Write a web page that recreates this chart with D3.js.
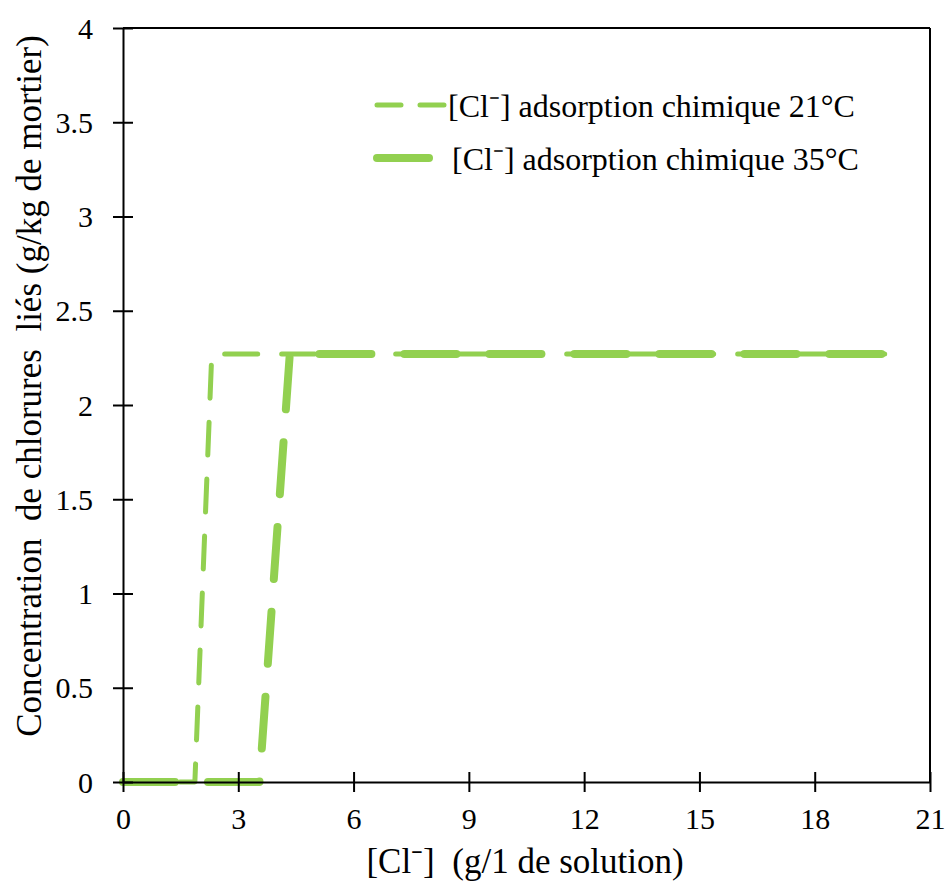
<!DOCTYPE html>
<html>
<head>
<meta charset="utf-8">
<script src="https://cdn.jsdelivr.net/npm/d3@7"></script>
<style>
  html, body { margin: 0; padding: 0; background: #fff; }
  svg { display: block; }
  text { font-family: "Liberation Serif", "Times New Roman", serif; fill: #000; }
</style>
</head>
<body>
<svg id="chart" width="946" height="886"></svg>
<script>
// ---- data ----
const seriesNames = ["[Cl⁻] adsorption chimique 21°C", "[Cl⁻] adsorption chimique 35°C"];
const cl21x = [0, 1.87, 2.31, 20.05];
const cl21y = [0, 0, 2.27, 2.27];
const cl35x = [0, 3.55, 4.34, 20.05];
const cl35y = [0, 0, 2.27, 2.27];
const xTicks = [0, 3, 6, 9, 12, 15, 18, 21];
const yTicks = [0, 0.5, 1, 1.5, 2, 2.5, 3, 3.5, 4];
const xTitle = "[Cl⁻]  (g/1 de solution)";
const yTitle = "Concentration  de chlorures  liés (g/kg de mortier)";

// ---- layout ----
const svg = d3.select("#chart");
const x = d3.scaleLinear().domain([0, 21]).range([123, 930]);
const y = d3.scaleLinear().domain([0, 4]).range([782, 28]);
const green = "#92D050";

const series = [
  { name: seriesNames[0], pts: cl21x.map((v, i) => [v, cl21y[i]]), width: 5, dash: "33,24", legDash: "24,19" },
  { name: seriesNames[1], pts: cl35x.map((v, i) => [v, cl35y[i]]), width: 8, dash: "52,33", legDash: "52,40" }
];

const line = d3.line().x(d => x(d[0])).y(d => y(d[1]));

// lines
series.forEach(s => {
  svg.append("path")
    .attr("d", line(s.pts))
    .attr("fill", "none")
    .attr("stroke", green)
    .attr("stroke-width", s.width)
    .attr("stroke-dasharray", s.dash)
    .attr("stroke-linecap", "round")
    .attr("stroke-linejoin", "round");
});

// frame (top & right)
svg.append("line").attr("x1", x(0)).attr("x2", x(21)).attr("y1", y(4)).attr("y2", y(4))
  .attr("stroke", "#000").attr("stroke-width", 2);
svg.append("line").attr("x1", x(21)).attr("x2", x(21)).attr("y1", y(4)).attr("y2", y(0))
  .attr("stroke", "#000").attr("stroke-width", 2);

// axes with crossing ticks
const xAxis = svg.append("g").attr("transform", `translate(0,${y(0)})`)
  .call(d3.axisBottom(x).tickValues(xTicks).tickSize(10).tickSizeOuter(0).tickFormat(d3.format("d")));
xAxis.select(".domain").attr("stroke-width", 2);
xAxis.selectAll(".tick line").attr("y1", -10).attr("y2", 10).attr("stroke-width", 2);
xAxis.selectAll(".tick text").attr("y", 47).attr("dy", null)
  .style("font-family", "Liberation Serif").style("font-size", "30px");

const yAxis = svg.append("g").attr("transform", `translate(${x(0)},0)`)
  .call(d3.axisLeft(y).tickValues(yTicks).tickSize(10).tickSizeOuter(0).tickFormat(d => String(d)));
yAxis.select(".domain").attr("stroke-width", 2);
yAxis.selectAll(".tick line").attr("x1", -10).attr("x2", 10).attr("stroke-width", 2);
yAxis.selectAll(".tick text").attr("x", -30).attr("dy", "0.34em")
  .style("font-family", "Liberation Serif").style("font-size", "30px");

// axis titles
svg.append("text").attr("x", 525).attr("y", 873).attr("text-anchor", "middle")
  .style("font-size", "35px").style("white-space", "pre").text(xTitle);
svg.append("text").attr("transform", "translate(41,386) rotate(-90)").attr("text-anchor", "middle")
  .style("font-size", "35px").style("white-space", "pre").text(yTitle);

// legend
const legY = [105, 158];
const legTextX = [448, 452];
series.forEach((s, i) => {
  svg.append("line").attr("x1", 377).attr("x2", i === 0 ? 444 : 430)
    .attr("y1", legY[i]).attr("y2", legY[i])
    .attr("stroke", green).attr("stroke-width", s.width)
    .attr("stroke-dasharray", s.legDash).attr("stroke-linecap", "round");
  svg.append("text").attr("x", legTextX[i]).attr("y", legY[i] + 12)
    .style("font-size", "32px").text(s.name);
});
</script>
</body>
</html>
